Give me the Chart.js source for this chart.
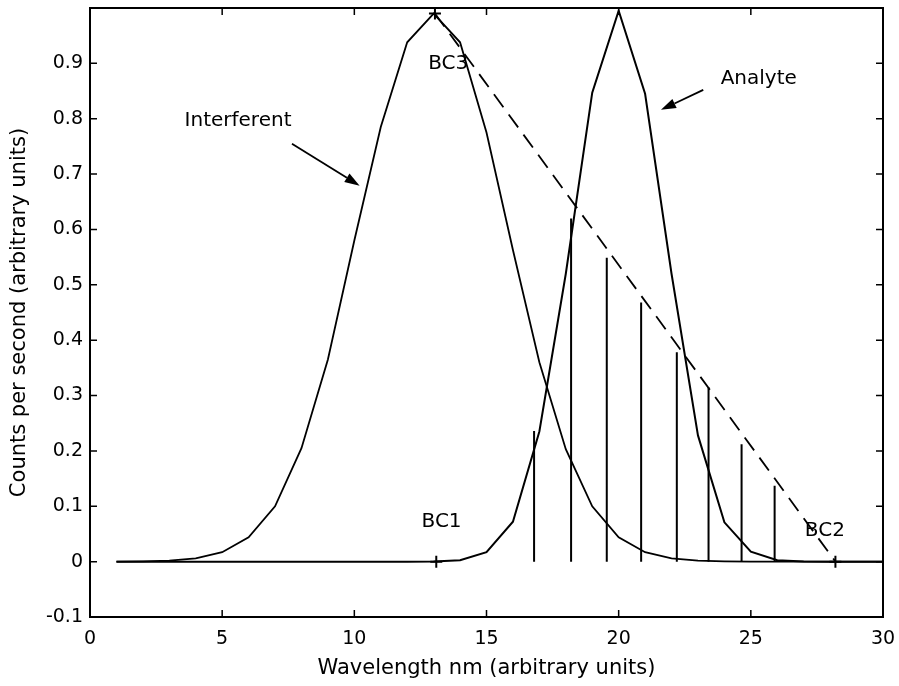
<!DOCTYPE html>
<html>
<head>
<meta charset="utf-8">
<script src="https://cdn.jsdelivr.net/npm/chart.js@4.4.1/dist/chart.umd.min.js"></script>
<style>
  html, body { margin: 0; padding: 0; background: #fff; }
  canvas { display: block; }
</style>
</head>
<body>
<canvas id="CHART" width="899" height="686"></canvas>
<script>
// DATA

const wavelengths = [1, 2, 3, 4, 5, 6, 7, 8, 9, 10, 11, 12, 13, 14, 15,
    16, 17, 18, 19, 20, 21, 22, 23, 24, 25, 26, 27, 28, 29, 30];

const interferent = [0.0001, 0.0005, 0.0017, 0.006, 0.017, 0.044, 0.10, 0.205, 0.365, 0.58,
    0.785, 0.938, 0.99, 0.938, 0.775, 0.563, 0.36, 0.203, 0.10, 0.044,
    0.017, 0.006, 0.0017, 0.0005, 0.0001, 0, 0, 0, 0, 0];

const analyte = [0, 0, 0, 0, 0, 0, 0, 0, 0, 0,
    0, 0, 0.0003, 0.0025, 0.017, 0.072, 0.235, 0.52, 0.847, 0.995,
    0.845, 0.52, 0.228, 0.071, 0.018, 0.0025, 0.0003, 0, 0, 0];

// vertical lines under the baseline
const stemX = [16.8, 18.2, 19.55, 20.85, 22.2, 23.4, 24.65, 25.9];
const stemTop = [0.236, 0.62, 0.549, 0.468, 0.378, 0.315, 0.212, 0.137];

// baseline points BC1, BC2, BC3
const bcX = [13.1, 28.2, 13.05];
const bcY = [0, 0, 0.99];

const xTicks = [0, 5, 10, 15, 20, 25, 30];
const yTicks = [-0.1, 0, 0.1, 0.2, 0.3, 0.4, 0.5, 0.6, 0.7, 0.8, 0.9];

// text notes and arrows
const noteText = ['Interferent', 'Analyte', 'BC1', 'BC2', 'BC3'];
const noteX = [5.6, 25.3, 13.3, 27.8, 13.55];
const noteY = [0.796, 0.872, 0.072, 0.056, 0.9];
const arrowFrom = [[7.64, 0.755], [23.2, 0.852]];
const arrowTo = [[10.2, 0.679], [21.6, 0.816]];

const FONT = "'DejaVu Sans', sans-serif";

// BUILD DATASETS

const stems = [];
stemX.forEach((x, i) => {
    stems.push({ x: x, y: 0 });
    stems.push({ x: x, y: stemTop[i] });
    stems.push({ x: x, y: null });
});

// no extra room for end labels, the plot box is set by layout padding
function noScalePadding(s) {
    s.paddingTop = 0;
    s.paddingBottom = 0;
    s.paddingLeft = 0;
    s.paddingRight = 0;
}

const framePlugin = {
    id: 'frame',
    afterDatasetsDraw(chart) {
        const ctx = chart.ctx;
        const a = chart.chartArea;
        const xs = chart.scales.x;
        const ys = chart.scales.y;
        ctx.save();
        ctx.strokeStyle = '#000';
        ctx.fillStyle = '#000';
        ctx.lineWidth = 2;
        ctx.strokeRect(a.left, a.top, a.right - a.left, a.bottom - a.top);

        // ticks point inwards on all four sides
        ctx.lineWidth = 1.5;
        ctx.beginPath();
        xTicks.forEach(v => {
            const px = xs.getPixelForValue(v);
            ctx.moveTo(px, a.bottom);
            ctx.lineTo(px, a.bottom - 7);
            ctx.moveTo(px, a.top);
            ctx.lineTo(px, a.top + 7);
        });
        yTicks.forEach(v => {
            const py = ys.getPixelForValue(v);
            ctx.moveTo(a.left, py);
            ctx.lineTo(a.left + 7, py);
            ctx.moveTo(a.right, py);
            ctx.lineTo(a.right - 7, py);
        });
        ctx.stroke();

        // notes
        ctx.font = "20px " + FONT;
        ctx.textAlign = 'center';
        ctx.textBaseline = 'middle';
        noteText.forEach((t, i) => {
            ctx.fillText(t, xs.getPixelForValue(noteX[i]), ys.getPixelForValue(noteY[i]));
        });

        // arrows
        ctx.lineWidth = 1.8;
        arrowFrom.forEach((f, i) => {
            const x0 = xs.getPixelForValue(f[0]);
            const y0 = ys.getPixelForValue(f[1]);
            const x1 = xs.getPixelForValue(arrowTo[i][0]);
            const y1 = ys.getPixelForValue(arrowTo[i][1]);
            const ang = Math.atan2(y1 - y0, x1 - x0);
            const len = 15, half = 5;
            const bx = x1 - len * Math.cos(ang);
            const by = y1 - len * Math.sin(ang);
            ctx.beginPath();
            ctx.moveTo(x0, y0);
            ctx.lineTo(bx, by);
            ctx.stroke();
            ctx.beginPath();
            ctx.moveTo(x1, y1);
            ctx.lineTo(bx + half * Math.sin(ang), by - half * Math.cos(ang));
            ctx.lineTo(bx - half * Math.sin(ang), by + half * Math.cos(ang));
            ctx.closePath();
            ctx.fill();
        });
        ctx.restore();
    }
};

const chart = new Chart(document.getElementById('CHART'), {
    type: 'line',
    data: {
        datasets: [{
            label: 'Interferent',
            data: wavelengths.map((w, i) => ({ x: w, y: interferent[i] })),
            borderColor: '#000',
            borderWidth: 1.8,
            pointRadius: 0,
        }, {
            label: 'Analyte',
            data: wavelengths.map((w, i) => ({ x: w, y: analyte[i] })),
            borderColor: '#000',
            borderWidth: 2,
            pointRadius: 0,
        }, {
            label: 'Baseline',
            data: [{ x: bcX[2], y: bcY[2] }, { x: bcX[1], y: bcY[1] }],
            borderColor: '#000',
            borderWidth: 1.8,
            borderDash: [16, 9],
            pointRadius: 0,
        }, {
            label: 'Net',
            data: stems,
            borderColor: '#000',
            borderWidth: 2,
            pointRadius: 0,
            spanGaps: false,
        }, {
            label: 'BC',
            data: bcX.map((x, i) => ({ x: x, y: bcY[i] })),
            showLine: false,
            borderColor: '#000',
            borderWidth: 2,
            pointStyle: 'cross',
            pointRadius: 6,
        }],
    },
    options: {
        responsive: false,
        animation: false,
        devicePixelRatio: 1,
        layout: { padding: { top: 8, right: 16, left: 0, bottom: 0 } },
        plugins: { legend: { display: false }, tooltip: { enabled: false } },
        scales: {
            x: {
                type: 'linear',
                min: 0,
                max: 30,
                afterBuildTicks: s => { s.ticks = xTicks.map(v => ({ value: v })); },
                afterFit: s => { s.height = 69; noScalePadding(s); },
                grid: { display: false, drawTicks: false },
                border: { display: false },
                ticks: { color: '#000', font: { family: FONT, size: 19 }, padding: 11, maxRotation: 0 },
                title: {
                    display: true,
                    text: 'Wavelength nm (arbitrary units)',
                    color: '#000',
                    font: { family: FONT, size: 21 },
                    padding: { top: 0, bottom: 5 },
                },
            },
            y: {
                type: 'linear',
                min: -0.1,
                max: 1,
                afterBuildTicks: s => { s.ticks = yTicks.map(v => ({ value: v })); },
                afterFit: s => { s.width = 90; noScalePadding(s); },
                grid: { display: false, drawTicks: false },
                border: { display: false },
                ticks: {
                    color: '#000',
                    font: { family: FONT, size: 19 },
                    padding: 7,
                    callback: v => String(Math.round(v * 10) / 10),
                },
                title: {
                    display: true,
                    text: 'Counts per second (arbitrary units)',
                    color: '#000',
                    font: { family: FONT, size: 21 },
                    padding: { top: 7, bottom: 0 },
                },
            },
        },
    },
    plugins: [framePlugin],
});
</script>
</body>
</html>
